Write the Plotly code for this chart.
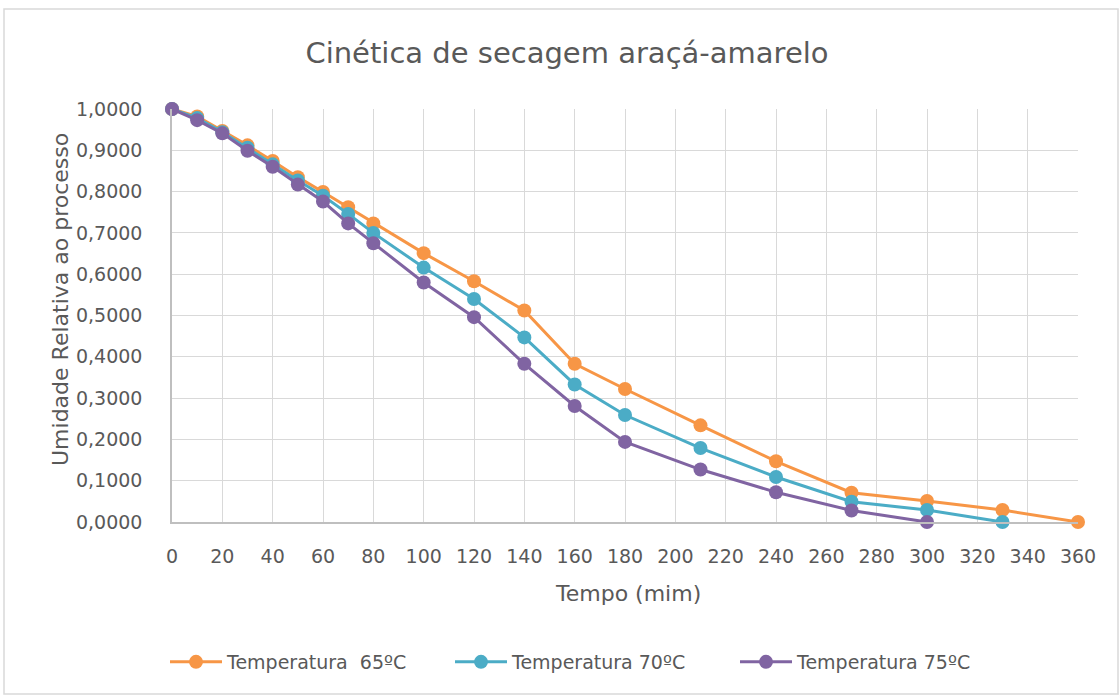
import plotly.graph_objects as go

tempo_65 = [0, 10, 20, 30, 40, 50, 60, 70, 80, 100, 120, 140, 160, 180, 210, 240, 270, 300, 330, 360]
umid_65 = [1.0, 0.982, 0.947, 0.912, 0.874, 0.835, 0.799, 0.762, 0.723, 0.651, 0.583, 0.512, 0.383, 0.322, 0.234, 0.147, 0.071, 0.051, 0.029, 0.0]

tempo_70 = [0, 10, 20, 30, 40, 50, 60, 70, 80, 100, 120, 140, 160, 180, 210, 240, 270, 300, 330]
umid_70 = [1.0, 0.978, 0.944, 0.906, 0.866, 0.827, 0.790, 0.746, 0.700, 0.616, 0.540, 0.447, 0.333, 0.259, 0.179, 0.109, 0.049, 0.029, 0.0]

tempo_75 = [0, 10, 20, 30, 40, 50, 60, 70, 80, 100, 120, 140, 160, 180, 210, 240, 270, 300]
umid_75 = [1.0, 0.973, 0.941, 0.899, 0.860, 0.817, 0.776, 0.723, 0.675, 0.580, 0.496, 0.383, 0.281, 0.194, 0.127, 0.072, 0.028, 0.0]

series = [
    ("Temperatura  65ºC", tempo_65, umid_65, "#F79646"),
    ("Temperatura 70ºC", tempo_70, umid_70, "#4BACC6"),
    ("Temperatura 75ºC", tempo_75, umid_75, "#8064A2"),
]

x_ticks = list(range(0, 361, 20))
y_ticks = [i / 10 for i in range(11)]

FONT = "DejaVu Sans, sans-serif"
TXT = "#595959"

fig = go.Figure()
for name, x, y, c in series:
    fig.add_trace(go.Scatter(
        x=x, y=y, name=name, mode="lines+markers",
        line=dict(color=c, width=3),
        marker=dict(color=c, size=14),
        cliponaxis=False,
    ))

L, R, T, B = 172, 41, 109, 173
W, H = 1119, 695
pw, ph = W - L - R, H - T - B

fig.update_layout(
    width=W, height=H,
    margin=dict(l=L, r=R, t=T, b=B),
    paper_bgcolor="white", plot_bgcolor="white",
    separators=",.",
    font=dict(family=FONT, color=TXT, size=19),
    title=dict(text="Cinética de secagem araçá-amarelo", x=567 / W, xanchor="center",
               y=1 - 53 / H, yanchor="middle", font=dict(size=29, color=TXT, family=FONT)),
    showlegend=True,
    legend=dict(orientation="h", x=(165 - L) / pw, xanchor="left", y=-(662 - 522) / ph, yanchor="middle",
                font=dict(size=19, color=TXT), itemwidth=52, traceorder="normal",
                entrywidth=218, entrywidthmode="pixels"),
    xaxis=dict(range=[0, 360], tickvals=x_ticks, showgrid=True, gridcolor="#D9D9D9", gridwidth=1,
               showline=True, linecolor="#BFBFBF", linewidth=1.5, zeroline=False,
               ticks="", ticklabelstandoff=16, tickfont=dict(size=19, color=TXT)),
    yaxis=dict(range=[0, 1], tickvals=y_ticks, tickformat=".4f", showgrid=True, gridcolor="#D9D9D9",
               gridwidth=1, showline=True, linecolor="#BFBFBF", linewidth=1.5, zeroline=False,
               ticks="", ticklabelstandoff=24, tickfont=dict(size=19, color=TXT)),
    annotations=[
        dict(text="Tempo (mim)", xref="paper", yref="paper", x=(628 - L) / pw, y=-(593 - 522) / ph,
             xanchor="center", yanchor="middle", showarrow=False, font=dict(size=22, color=TXT)),
        dict(text="Umidade Relativa ao processo", xref="paper", yref="paper", x=-(L - 60) / pw,
             y=(522 - 300) / ph, xanchor="center", yanchor="middle", textangle=-90, showarrow=False,
             font=dict(size=22, color=TXT)),
    ],
    shapes=[
        dict(type="rect", xref="paper", yref="paper", x0=-(L - 4) / pw, x1=(1118 - L) / pw,
             y0=-(694 - 522) / ph, y1=(522 - 9) / ph, line=dict(color="#D9D9D9", width=1.5),
             fillcolor="rgba(0,0,0,0)", layer="below"),
    ],
)

fig.write_html("out.html")
